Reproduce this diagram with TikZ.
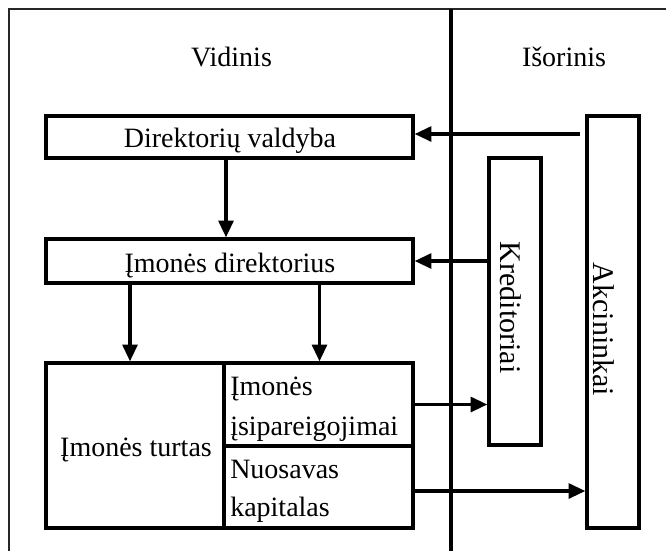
\documentclass[tikz,border=0pt]{standalone}
\usepackage{fontspec}
\setmainfont{Liberation Serif}
\usetikzlibrary{arrows.meta,calc}
\begin{document}
\begin{tikzpicture}[x=0.75pt,y=-0.75pt,
  box/.style={draw, line width=2.8pt, inner sep=0pt, outer sep=0pt},
  lbl/.style={inner sep=0pt, font=\fontsize{21pt}{25pt}\selectfont},
  vlbl/.style={inner sep=0pt, rotate=-90, anchor=base, font=\fontsize{22.5pt}{26pt}\selectfont},
  arr/.style={line width=2.6pt, shorten >=1.2pt, -{Triangle[length=12.5pt,width=11pt]}},
  sepline/.style={line width=2.4pt},
  framel/.style={line width=1pt, black!85}]
\useasboundingbox (0,0) rectangle (666,551);
% frame and divider
\draw[framel] (9,551) -- (9,9) -- (666,9);
\draw[sepline] (451,9) -- (451,551);
% boxes
\node[box, minimum width=367*0.75pt, minimum height=42*0.75pt] (dv) at (229.5,137) {};
\node[box, minimum width=367*0.75pt, minimum height=44*0.75pt] (id) at (229.5,261) {};
\node[box, minimum width=367*0.75pt, minimum height=165*0.75pt] (bot) at (229.5,445.5) {};
\node[box, minimum width=189*0.75pt, minimum height=83*0.75pt] (liab) at (318.5,404.5) {};
\node[box, minimum width=189*0.75pt, minimum height=82*0.75pt] (eq) at (318.5,487) {};
\node[box, minimum width=52*0.75pt, minimum height=287*0.75pt] (kred) at (515,301.5) {};
\node[box, minimum width=52*0.75pt, minimum height=412*0.75pt] (akc) at (613,322) {};
% texts
\node[lbl, anchor=base] (tvid) at (231.5,66) {Vidinis};
\node[lbl, anchor=base] (tis) at (564,66) {Išorinis};
\node[lbl, anchor=base] (tdv) at (230,147) {Direktorių valdyba};
\node[lbl, anchor=base] (tid) at (230,272) {Įmonės direktorius};
\node[lbl, anchor=base] (tturt) at (136,456) {Įmonės turtas};
\node[lbl, anchor=base west] (tl1) at (230,395) {Įmonės};
\node[lbl, anchor=base west] (tl2) at (230,435) {įsipareigojimai};
\node[lbl, anchor=base west] (te1) at (230,478) {Nuosavas};
\node[lbl, anchor=base west] (te2) at (230,516) {kapitalas};
\node[vlbl] (tkred) at (500,307.5) {Kreditoriai};
\node[vlbl] (takc) at (593,329.5) {Akcininkai};
% connectors
\coordinate (akcout) at (580,134);
\coordinate (cmid) at (226,0);
\coordinate (cl) at (130,0);
\coordinate (cr) at (319.5,0);
\draw[arr] (akcout) -- (dv.east |- akcout);
\draw[arr] (dv.south -| cmid) -- (id.north -| cmid);
\draw[arr] (kred.west |- id.east) -- (id.east);
\draw[arr] (id.south -| cl) -- (bot.north -| cl);
\draw[arr] (id.south -| cr) -- (bot.north -| cr);
\draw[arr] (liab.east) -- (liab.east -| kred.west);
\draw[arr] ([yshift=-3pt]eq.east) -- ([yshift=-3pt]eq.east -| akc.west);
\end{tikzpicture}
\end{document}
